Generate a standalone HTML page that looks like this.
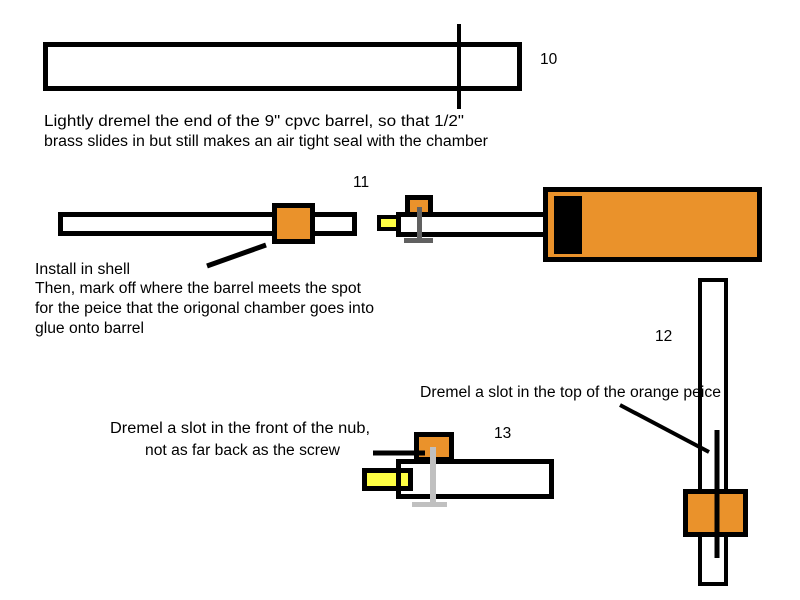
<!DOCTYPE html>
<html><head><style>html,body{margin:0;padding:0;background:#fff}svg{display:block}text{font-family:"Liberation Sans",Arial,sans-serif;font-size:15.5px;fill:#000}</style></head>
<body>
<svg width="800" height="600" viewBox="0 0 800 600" xmlns="http://www.w3.org/2000/svg">
<g fill="none" stroke="#000" stroke-width="5">
<rect x="45.5" y="44.5" width="474" height="44" fill="#fff"/>
</g>
<line x1="459" y1="24" x2="459" y2="109" stroke="#000" stroke-width="4"/>
<text x="540" y="64">10</text>
<text x="44" y="126" textLength="420" lengthAdjust="spacingAndGlyphs">Lightly dremel the end of the 9" cpvc barrel, so that 1/2"</text>
<text x="44" y="146" textLength="444" lengthAdjust="spacingAndGlyphs">brass slides in but still makes an air tight seal with the chamber</text>
<text x="353" y="187">11</text>
<rect x="60.5" y="214.5" width="294" height="19" fill="#fff" stroke="#000" stroke-width="5"/>
<rect x="274.5" y="205.5" width="38" height="36" fill="#ea922b" stroke="#000" stroke-width="5"/>
<line x1="207" y1="266" x2="266" y2="245" stroke="#000" stroke-width="5"/>
<text x="35" y="274" textLength="95" lengthAdjust="spacingAndGlyphs">Install in shell</text>
<text x="35" y="293" textLength="326" lengthAdjust="spacingAndGlyphs">Then, mark off where the barrel meets the spot</text>
<text x="35" y="313" textLength="339" lengthAdjust="spacingAndGlyphs">for the peice that the origonal chamber goes into</text>
<text x="35" y="333" textLength="109" lengthAdjust="spacingAndGlyphs">glue onto barrel</text>
<rect x="379" y="217" width="22" height="12" fill="#ffff44" stroke="#000" stroke-width="4"/>
<rect x="398.5" y="214.5" width="148" height="20" fill="#fff" stroke="#000" stroke-width="5"/>
<rect x="407.5" y="197.5" width="23" height="17" fill="#ea922b" stroke="#000" stroke-width="5"/>
<rect x="417" y="207" width="5" height="33" fill="#606060"/>
<rect x="404" y="238" width="29" height="5" fill="#606060"/>
<rect x="545.5" y="189.5" width="214" height="70" fill="#ea922b" stroke="#000" stroke-width="5"/>
<rect x="554" y="196" width="28" height="58" fill="#000"/>
<rect x="700" y="280" width="26" height="304" fill="#fff" stroke="#000" stroke-width="4"/>
<rect x="685.5" y="491.5" width="60" height="43" fill="#ea922b" stroke="#000" stroke-width="5"/>
<line x1="717" y1="430" x2="717" y2="558" stroke="#000" stroke-width="5"/>
<line x1="620" y1="405" x2="709" y2="452" stroke="#000" stroke-width="4"/>
<text x="655" y="341">12</text>
<text x="420" y="397" textLength="301" lengthAdjust="spacingAndGlyphs">Dremel a slot in the top of the orange peice</text>
<text x="110" y="433" textLength="260" lengthAdjust="spacingAndGlyphs">Dremel a slot in the front of the nub,</text>
<text x="145" y="455" textLength="195" lengthAdjust="spacingAndGlyphs">not as far back as the screw</text>
<text x="494" y="438">13</text>
<rect x="364.5" y="470.5" width="46" height="18" fill="#ffff44" stroke="#000" stroke-width="5"/>
<rect x="398.5" y="461.5" width="153" height="35" fill="none" stroke="#000" stroke-width="5"/>
<rect x="416.5" y="434.5" width="35" height="25" fill="#ea922b" stroke="#000" stroke-width="5"/>
<line x1="373" y1="453" x2="425" y2="453" stroke="#000" stroke-width="5"/>
<rect x="430" y="447" width="6" height="56" fill="#c0c0c0"/>
<rect x="412" y="502" width="35" height="5" fill="#c0c0c0"/>
</svg>
</body></html>
